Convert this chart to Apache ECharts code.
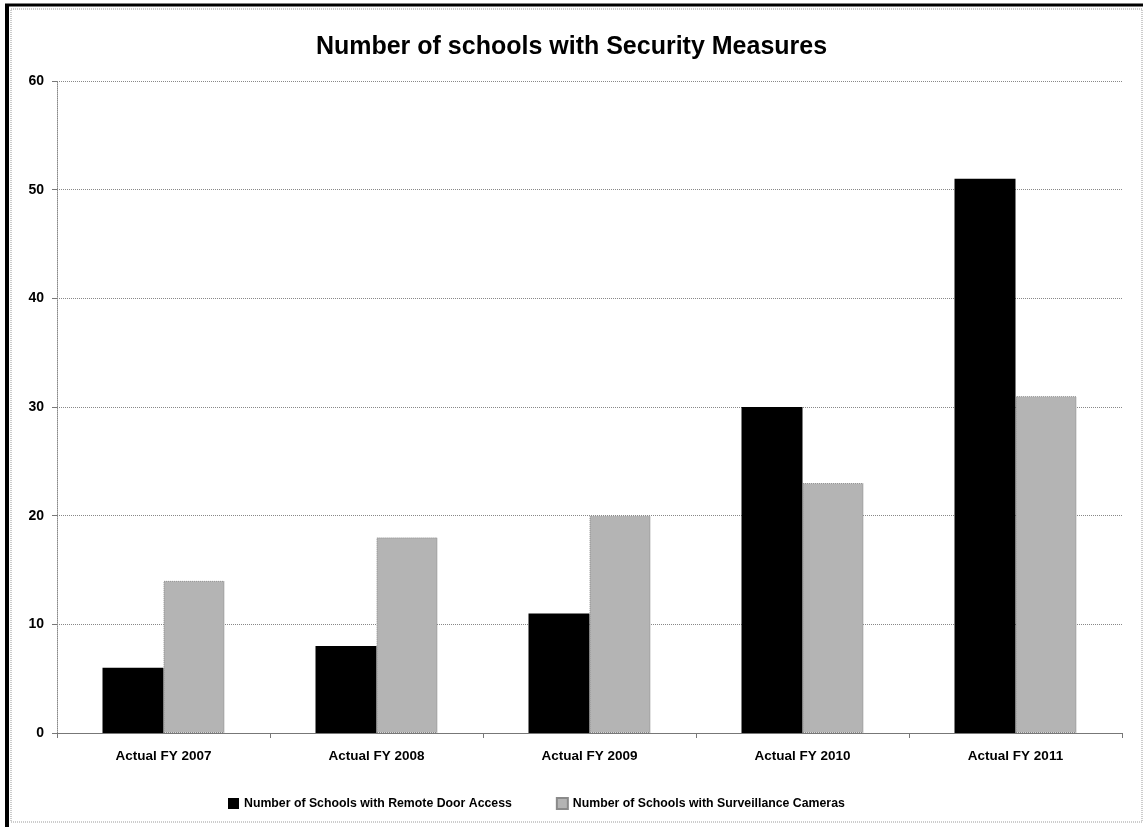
<!DOCTYPE html>
<html><head><meta charset="utf-8">
<script src="https://cdn.jsdelivr.net/npm/echarts@6/dist/echarts.min.js"></script>
<style>html,body{margin:0;padding:0;background:#fff}#c{width:1143px;height:827px}</style>
</head><body><div id="c"></div>
<script>
const categories = ['Actual FY 2007','Actual FY 2008','Actual FY 2009','Actual FY 2010','Actual FY 2011'];
const remoteDoor = [6, 8, 11, 30, 51];
const cameras = [14, 18, 20, 23, 31];
const seriesNames = ['Number of Schools with Remote Door Access','Number of Schools with Surveillance Cameras'];
const titleText = 'Number of schools with Security Measures';

const font = '"Liberation Sans", Arial, sans-serif';
const chart = echarts.init(document.getElementById('c'));
chart.setOption({
  animation: false,
  backgroundColor: '#fff',
  title: { text: titleText, left: 'center', top: 30,
    textStyle: { fontFamily: font, fontSize: 25, fontWeight: 'bold', color: '#000' } },
  legend: { top: 792, left: 223, itemWidth: 11, itemHeight: 11, itemGap: 44,
    icon: 'rect',
    textStyle: { fontFamily: font, fontSize: 12.3, fontWeight: 'bold', color: '#000' },
    data: seriesNames },
  grid: { left: 57, right: 21, top: 81, bottom: 94, containLabel: false },
  xAxis: { type: 'category', data: categories,
    axisLine: { lineStyle: { color: '#777', width: 1 } },
    axisTick: { show: true, length: 5, lineStyle: { color: '#777' } },
    axisLabel: { fontFamily: font, fontSize: 13.5, fontWeight: 'bold', color: '#000', margin: 16 } },
  yAxis: { type: 'value', min: 0, max: 60, interval: 10,
    axisLine: { show: true, lineStyle: { color: '#888', type: 'dotted' } },
    axisTick: { show: true, length: 5, lineStyle: { color: '#777' } },
    splitLine: { lineStyle: { color: '#888', type: 'dotted' } },
    axisLabel: { fontFamily: font, fontSize: 14, fontWeight: 'bold', color: '#000', margin: 13 } },
  series: [
    { name: seriesNames[0], type: 'bar', data: remoteDoor, barWidth: 61, barGap: '0%',
      itemStyle: { color: '#000' } },
    { name: seriesNames[1], type: 'bar', data: cameras, barWidth: 61,
      itemStyle: { color: '#b4b4b4', borderColor: '#8a8a8a', borderWidth: 1, borderType: 'dotted' } }
  ],
  graphic: [
    { type: 'rect', shape: { x: 11, y: 9, width: 1131, height: 813 },
      style: { fill: 'none', stroke: '#999', lineWidth: 1, lineDash: [1, 1] }, silent: true },
    { type: 'line', shape: { x1: 5, y1: 5, x2: 1143, y2: 5 }, style: { stroke: '#000', lineWidth: 3 } },
    { type: 'line', shape: { x1: 7, y1: 5, x2: 7, y2: 827 }, style: { stroke: '#000', lineWidth: 4 } }
  ]
});
</script></body></html>
